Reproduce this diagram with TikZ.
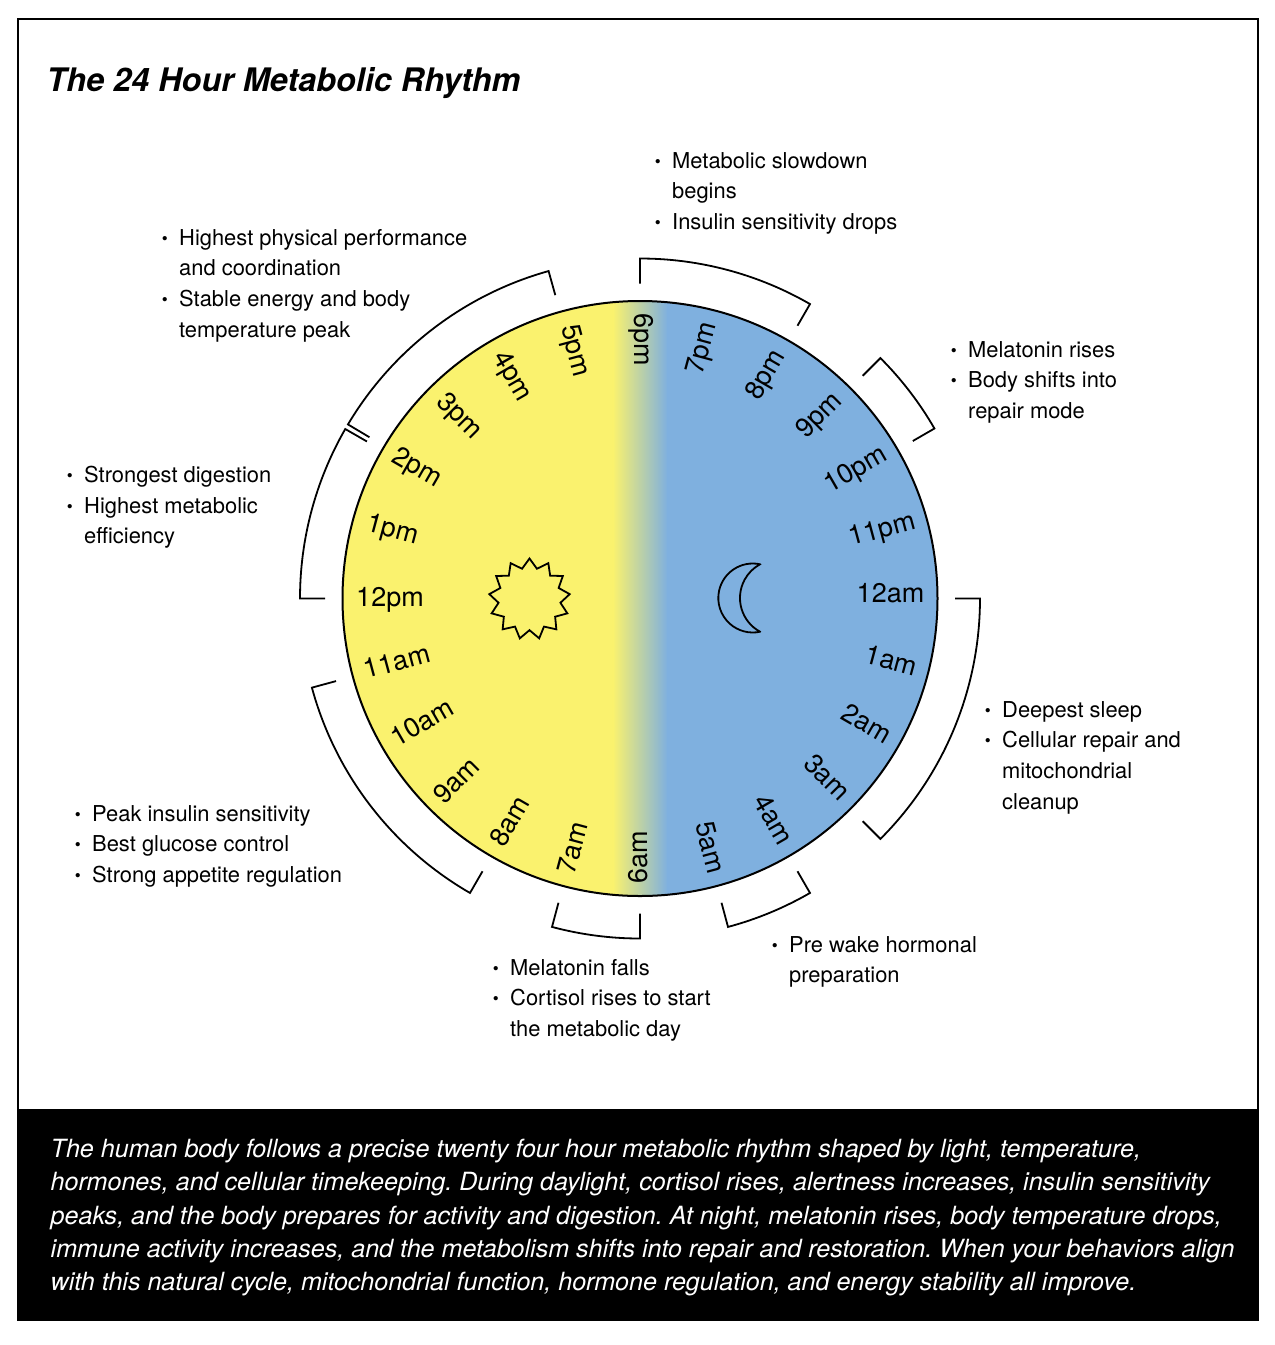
\documentclass[tikz,border=0pt]{standalone}
\usepackage{fontspec}
\setmainfont{TeX Gyre Heros}
\usetikzlibrary{shapes.geometric}
\definecolor{dayyellow}{RGB}{250,242,110}
\definecolor{nightblue}{RGB}{127,176,223}
\newcommand{\blt}{\makebox[0pt][r]{\raisebox{1pt}{\fontsize{17}{17}\selectfont •}\hspace{11.5pt}}}
\newcommand{\brk}[2]{\draw[bracketline] (#1:315) -- (#1:340) arc[start angle=#1,end angle=#2,radius=340] -- (#2:315);}
\tikzset{
  note/.style={anchor=north west,inner sep=0pt,align=left,font=\fontsize{21.9}{30.7}\selectfont\frenchspacing},
  hour/.style={inner sep=0pt,text height=19pt,text depth=0pt,font=\fontsize{27}{30}\selectfont},
  bracketline/.style={draw=black,line width=1.8pt,line join=miter},
}
\begin{document}
\begin{tikzpicture}[x=1pt,y=-1pt]
\useasboundingbox (0,0) rectangle (1275,1345);
\fill[white] (0,0) rectangle (1275,1345);
% frame and caption band
\node[draw=black,line width=2pt,outer sep=0pt,minimum width=1240pt,minimum height=1301pt,inner sep=0pt,anchor=north west] (frame) at (18,19) {};
\node[fill=black,outer sep=0pt,minimum width=1241pt,minimum height=211.5pt,inner sep=0pt,anchor=north west] (band) at (17.5,1109) {};
% title
\node[anchor=west,inner sep=0pt,font=\fontsize{32.4}{36}\selectfont\bfseries\itshape] (title) at (46.5,83) {The 24 Hour Metabolic Rhythm};
% dial
\begin{scope}
\clip (640,598.5) circle[radius=297];
\fill[dayyellow] (340,298) rectangle (613,900);
\shade[left color=dayyellow,right color=nightblue] (612.8,298) rectangle (667.5,900);
\fill[nightblue] (667.3,298) rectangle (940,900);
\end{scope}
\node[circle,draw=black,line width=2pt,outer sep=0pt,minimum size=595pt,inner sep=0pt] (dial) at (640,598.5) {};
% sun and moon
\node[star,star points=13,star point ratio=1.3,draw=black,line width=1.8pt,outer sep=0pt,minimum size=81pt,inner sep=0pt] (sun) at (529.5,599) {};
\begin{scope}[shift={(752.8,598)},x=1pt,y=1pt]
\draw[line width=1.8pt,line join=miter] (78:34.5) arc[start angle=78,end angle=282,radius=34.5]
  -- (7.2,-33.7) arc[start angle=241.4,end angle=118.6,radius=38.4] -- cycle;
\end{scope}
% hours
\node[hour,rotate=-75] (h5pm) at (577,350) {5pm};
\node[hour,rotate=-60] (h4pm) at (514,375) {4pm};
\node[hour,rotate=-45] (h3pm) at (461,415) {3pm};
\node[hour,rotate=-30] (h2pm) at (418,466) {2pm};
\node[hour,rotate=-15] (h1pm) at (393,528) {1pm};
\node[hour] (h12pm) at (390,597) {12pm};
\node[hour,rotate=15] (h11am) at (397,661) {11am};
\node[hour,rotate=30] (h10am) at (422,722) {10am};
\node[hour,rotate=45] (h9am) at (456,780) {9am};
\node[hour,rotate=60] (h8am) at (509,821) {8am};
\node[hour,rotate=75] (h7am) at (572,848) {7am};
\node[hour,rotate=90] (h6am) at (638,857) {6am};
\node[hour,rotate=-75] (h5am) at (711,847) {5am};
\node[hour,rotate=-60] (h4am) at (774,819) {4am};
\node[hour,rotate=-45] (h3am) at (827.5,777) {3am};
\node[hour,rotate=-30] (h2am) at (866.5,723) {2am};
\node[hour,rotate=-15] (h1am) at (891.5,660) {1am};
\node[hour] (h12am) at (890.5,593) {12am};
\node[hour,rotate=15] (h11pm) at (882,528) {11pm};
\node[hour,rotate=30] (h10pm) at (855,468) {10pm};
\node[hour,rotate=45] (h9pm) at (818,414) {9pm};
\node[hour,rotate=60] (h8pm) at (764,374) {8pm};
\node[hour,rotate=75] (h7pm) at (700,348) {7pm};
\node[hour,rotate=-90] (h6pm) at (644,340) {6pm};
% brackets
\begin{scope}[shift={(640,598.5)},x=1pt,y=1pt]
\brk{90}{60}
\brk{45}{30}
\brk{0}{-45}
\brk{-60}{-75}
\brk{-90}{-105}
\brk{-120}{-164.8}
\brk{180}{150.1}
\brk{149.2}{105.6}
\end{scope}
% notes
\node[note] (n1) at (672,152) {\blt Metabolic slowdown\\begins\\\blt Insulin sensitivity drops};
\node[note] (n2) at (968,341) {\blt Melatonin rises\\\blt Body shifts into\\repair mode};
\node[note] (n3) at (1002,701) {\blt Deepest sleep\\\blt Cellular repair and\\mitochondrial\\cleanup};
\node[note] (n4) at (789,936) {\blt Pre wake hormonal\\preparation};
\node[note] (n5) at (510,959) {\blt Melatonin falls\\\blt Cortisol rises to start\\the metabolic day};
\node[note] (n6) at (92,805) {\blt Peak insulin sensitivity\\\blt Best glucose control\\\blt Strong appetite regulation};
\node[note] (n7) at (84,466) {\blt Strongest digestion\\\blt Highest metabolic\\efficiency};
\node[note] (n8) at (179,229) {\blt Highest physical performance\\and coordination\\\blt Stable energy and body\\temperature peak};
% caption
\node[anchor=north west,inner sep=0pt,align=left,text=white,font=\fontsize{25.08}{33.25}\selectfont\itshape\frenchspacing] (caption) at (50.5,1139) {The human body follows a precise twenty four hour metabolic rhythm shaped by light, temperature,\\hormones, and cellular timekeeping. During daylight, cortisol rises, alertness increases, insulin sensitivity\\peaks, and the body prepares for activity and digestion. At night, melatonin rises, body temperature drops,\\immune activity increases, and the metabolism shifts into repair and restoration. When your behaviors align\\with this natural cycle, mitochondrial function, hormone regulation, and energy stability all improve.};
\end{tikzpicture}
\end{document}
